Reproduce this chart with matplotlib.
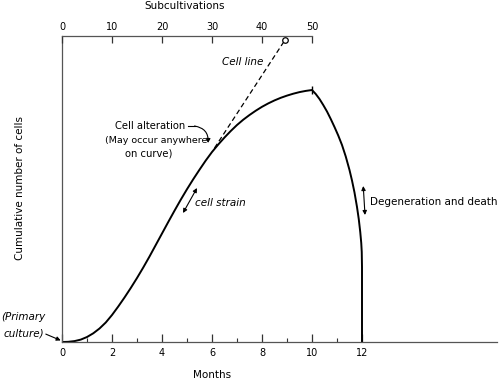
import matplotlib
matplotlib.use("Agg")
import matplotlib.pyplot as plt
from matplotlib.ticker import FixedLocator

# Data (months, cumulative cells in arbitrary units)
months = [0, 0.25, 0.5, 0.75, 1, 1.25, 1.5, 1.75, 2, 2.25, 2.5, 2.75, 3, 3.25, 3.5, 3.75,
          4, 4.25, 4.5, 4.75, 5, 5.25, 5.5, 5.75, 6, 6.25, 6.5, 6.75, 7, 7.25, 7.5, 7.75,
          8, 8.25, 8.5, 8.75, 9, 9.25, 9.5, 9.75, 10,
          10.15, 10.3, 10.45, 10.6, 10.75, 10.9, 11.05, 11.2, 11.35, 11.5, 11.6, 11.7, 11.8,
          11.87, 11.93, 11.97, 11.99, 12.0, 12.0]
cells = [0, 0.2, 0.9, 2.4, 5, 8.7, 13.5, 19.5, 27, 35.5, 44.5, 54, 64, 74.5, 85.5, 97,
         108.5, 120, 131.3, 142.3, 152.8, 162.8, 172.3, 181.5, 190, 197.5, 204.5, 211, 217, 222.3, 227, 231.3,
         235.2, 238.6, 241.6, 244.2, 246.4, 248.3, 249.9, 251.1, 252,
         248, 243, 237, 230.5, 223, 215, 206.5, 197, 185.5, 172, 161.5, 149.5, 135,
         123, 110, 99, 90, 75, 0]
line_months = [6.1, 8.92]
line_cells = [194, 302]
peak = (10, 252)
month_ticks = [0, 2, 4, 6, 8, 10, 12]
month_minor = [1, 3, 5, 7, 9, 11]
sub_ticks = [0, 10, 20, 30, 40, 50]

plt.rcParams['font.family'] = ['DejaVu Sans']
fig = plt.figure(figsize=(5, 3.79), dpi=100)
ax = fig.add_axes([0.124, 0.0976, 0.87, 0.8074])
xmax = 17.4
ax.set_xlim(0, xmax)
ax.set_ylim(0, 306)

ax.plot(months, cells, color='black', lw=1.4, solid_capstyle='round', solid_joinstyle='round')
ax.plot([peak[0]], [peak[1]], marker='|', color='black', ms=6, mew=1)
ax.plot(line_months, line_cells, color='black', lw=0.9, dashes=(4, 2.5))
ax.plot([line_months[-1]], [line_cells[-1]], marker='o', mfc='white', mec='black', ms=4, mew=0.9)

ax.spines['right'].set_visible(False)
ax.spines['top'].set_visible(False)
for s in ['left', 'bottom']:
    ax.spines[s].set_color('#555555')
    ax.spines[s].set_linewidth(0.9)

ax.xaxis.set_major_locator(FixedLocator(month_ticks))
ax.xaxis.set_minor_locator(FixedLocator(month_minor))
ax.tick_params(axis='x', which='major', direction='in', length=6, width=0.9, labelsize=7, pad=4, color='#333333')
ax.tick_params(axis='x', which='minor', direction='in', length=3, width=0.8, color='#333333')
ax.set_yticks([])

ax2 = ax.twiny()
ax2.set_xlim(0, xmax * 5)
for s in ['right', 'left', 'bottom']:
    ax2.spines[s].set_visible(False)
ax2.spines['top'].set_bounds(0, 50)
ax2.spines['top'].set_color('#555555')
ax2.spines['top'].set_linewidth(0.9)
ax2.xaxis.set_major_locator(FixedLocator(sub_ticks))
ax2.tick_params(axis='x', direction='in', length=5, width=0.9, labelsize=7, pad=3, color='#333333')

fig.text(212 / 500, 1 - 375 / 379, 'Months', ha='center', va='center', fontsize=7.5)
fig.text(185 / 500, 1 - 6 / 379, 'Subcultivations', ha='center', va='center', fontsize=7.5)
fig.text(20 / 500, 1 - 188 / 379, 'Cumulative number of cells', rotation=90, ha='center', va='center', fontsize=7.5)

ax.text(8.04, 280, 'Cell line', ha='right', va='center', fontsize=7.5, style='italic')
ax.text(3.52, 216, 'Cell alteration', ha='center', va='center', fontsize=7.2)
ax.text(3.76, 202, '(May occur anywhere', ha='center', va='center', fontsize=6.8)
ax.text(3.46, 189, 'on curve)', ha='center', va='center', fontsize=7.2)
ax.plot([5.04, 5.3], [216, 216], color='black', lw=0.8)
ax.annotate('', xy=(5.84, 199), xytext=(5.3, 216),
            arrowprops=dict(arrowstyle='-|>', color='black', lw=0.8, mutation_scale=6,
                            connectionstyle='arc3,rad=-0.45', shrinkA=0, shrinkB=0))
ax.text(5.32, 139, 'cell strain', ha='left', va='center', fontsize=7.5, style='italic')
ax.annotate('', xy=(4.84, 129), xytext=(5.4, 154),
            arrowprops=dict(arrowstyle='<|-|>', color='black', lw=0.8, mutation_scale=6,
                            shrinkA=0, shrinkB=0))
ax.text(12.3, 140, 'Degeneration and death', ha='left', va='center', fontsize=7.5)
ax.annotate('', xy=(12.12, 127), xytext=(12.05, 156),
            arrowprops=dict(arrowstyle='<|-|>', color='black', lw=0.8, mutation_scale=6,
                            shrinkA=0, shrinkB=0))
fig.text(1 / 500, 1 - 317 / 379, '(Primary', ha='left', va='center', fontsize=7.5, style='italic')
fig.text(4 / 500, 1 - 333 / 379, 'culture)', ha='left', va='center', fontsize=7.5, style='italic')
ax.annotate('', xy=(0.05, 0.5), xytext=(-0.75, 9),
            arrowprops=dict(arrowstyle='-|>', color='black', lw=0.8, mutation_scale=6),
            annotation_clip=False)

fig.savefig('out.png', dpi=100)
